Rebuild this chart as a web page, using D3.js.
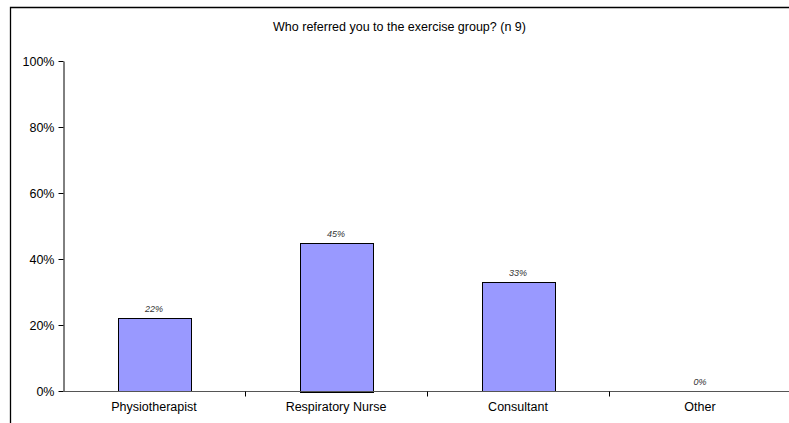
<!DOCTYPE html>
<html><head><meta charset="utf-8">
<script src="https://cdn.jsdelivr.net/npm/d3@7"></script>
<style>body{margin:0;background:#fff}svg{display:block}text{font-family:"Liberation Sans",Arial,sans-serif}</style>
</head><body>
<svg id="c" width="789" height="423"></svg>
<script>
const title = "Who referred you to the exercise group? (n 9)";
const categories = ["Physiotherapist", "Respiratory Nurse", "Consultant", "Other"];
const values = [22, 45, 33, 0];
const yTicks = [0, 20, 40, 60, 80, 100];

const svg = d3.select("#c");
const W = 789, H = 423;
const mLeft = 63, mRight = 791, mTop = 61, mBottom = 391;

// outer frame
svg.append("path").attr("d", `M10.5,${H}V7.5H${W}`).attr("fill","none").attr("stroke","#000").attr("stroke-width",1.3);

svg.append("text").attr("x", 399.5).attr("y", 31).attr("text-anchor","middle")
  .attr("font-size", 12.5).attr("fill","#000").text(title);

const x = d3.scaleBand().domain(categories).range([mLeft, mRight]).paddingInner(0.6).paddingOuter(0.3);
const xOuter = d3.scaleBand().domain(categories).range([mLeft, mRight]);
const y = d3.scaleLinear().domain([0, 100]).range([mBottom, mTop]);

// bars
svg.append("g").selectAll("rect").data(values).join("rect")
  .attr("x", (d,i) => Math.round(x(categories[i])) + 0.5)
  .attr("width", Math.round(x.bandwidth()))
  .attr("y", d => Math.round(y(d)) + 0.5)
  .attr("height", d => Math.round(y(0) - y(d)))
  .attr("fill", "#9999ff").attr("stroke", "#000").attr("stroke-width", 1)
  .attr("display", d => d > 0 ? null : "none");

// data labels
svg.append("g").selectAll("text").data(values).join("text")
  .attr("x", (d,i) => x(categories[i]) + x.bandwidth()/2)
  .attr("y", d => y(d) - 6)
  .attr("text-anchor","middle").attr("font-size", 9).attr("font-style","italic").attr("fill","#333")
  .text(d => d + "%");

// y axis
const yAxis = d3.axisLeft(y).tickValues(yTicks).tickFormat(d => d + "%").tickSize(5).tickSizeOuter(0).tickPadding(4);
const gy = svg.append("g").attr("transform", `translate(${mLeft + 0.5},0)`).call(yAxis);
gy.select(".domain").attr("stroke", "#000");
gy.selectAll(".tick line").attr("stroke", "#000");
gy.selectAll(".tick text").attr("font-size", 12.5).attr("font-family", '"Liberation Sans",Arial,sans-serif').attr("fill","#000");

// x axis
const gx = svg.append("g").attr("transform", `translate(0,${mBottom + 0.5})`);
gx.append("line").attr("x1", mLeft).attr("x2", W).attr("stroke", "#555").attr("stroke-width", 1.2);
gx.selectAll("line.t").data(categories.slice(1)).join("line").attr("class","t")
  .attr("x1", d => Math.round(xOuter(d)) + 0.5).attr("x2", d => Math.round(xOuter(d)) + 0.5)
  .attr("y1", 0).attr("y2", 5).attr("stroke", "#000");
gx.selectAll("text.c").data(categories).join("text").attr("class","c")
  .attr("x", d => xOuter(d) + xOuter.bandwidth()/2)
  .attr("y", 19).attr("text-anchor","middle").attr("font-size", 12.5).attr("fill","#000")
  .text(d => d);
</script>
</body></html>
